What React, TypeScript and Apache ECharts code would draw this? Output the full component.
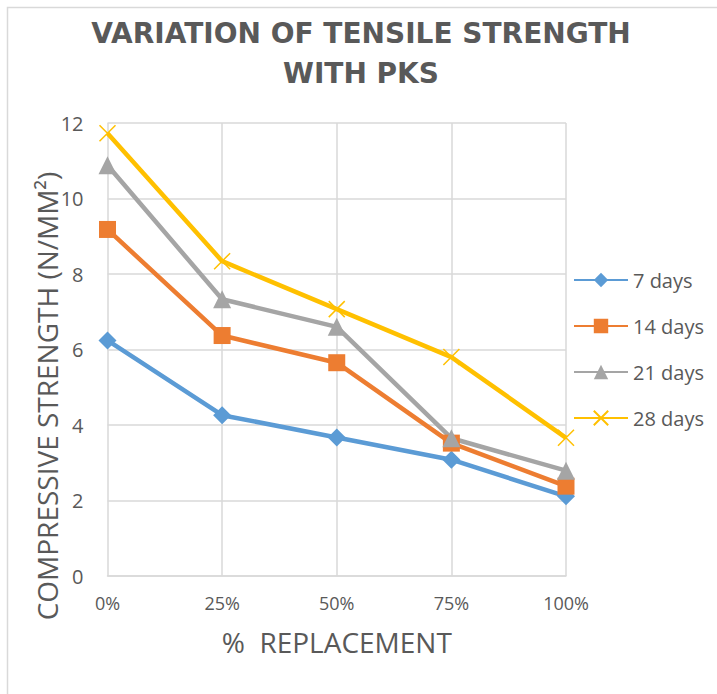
import React, { useEffect, useRef } from "react";
import * as echarts from "echarts";

const categories = ["0%", "25%", "50%", "75%", "100%"];
const days7 = [6.24, 4.26, 3.67, 3.08, 2.11];
const days14 = [9.18, 6.37, 5.65, 3.52, 2.38];
const days21 = [10.88, 7.33, 6.6, 3.65, 2.79];
const days28 = [11.73, 8.34, 7.07, 5.8, 3.66];
const seriesNames = ["7 days", "14 days", "21 days", "28 days"];
const yTicks = { min: 0, max: 12, interval: 2 };

const FONT = "'Open Sans', 'Liberation Sans', sans-serif";
const TXT = "#595959";

export default function App() {
  const ref = useRef<HTMLDivElement>(null);
  useEffect(() => {
    if (!ref.current) return;
    const chart = echarts.init(ref.current, undefined, { renderer: "svg" });
    const mk = (name: string, data: number[], color: string, symbol: string, size: number, extra: any = {}) => ({
      name,
      type: "line",
      data,
      symbol,
      symbolSize: size,
      showSymbol: true,
      lineStyle: { color, width: 4.5 },
      itemStyle: { color, ...extra },
      z: 2,
    });
    chart.setOption({
      animation: false,
      backgroundColor: "#ffffff",
      textStyle: { fontFamily: FONT },
      title: {
        text: "VARIATION OF TENSILE STRENGTH\nWITH PKS",
        left: 356,
        textAlign: "center",
        top: 8,
        textStyle: {
          fontFamily: "'DejaVu Sans', sans-serif",
          fontSize: 28,
          fontWeight: "bold",
          color: TXT,
          lineHeight: 40,
        },
      },
      graphic: [
        {
          type: "rect",
          shape: { x: 7.5, y: 7.5, width: 800, height: 800 },
          style: { fill: "none", stroke: "#d9d9d9", lineWidth: 1.5 },
          silent: true,
        },
        {
          type: "text",
          x: 47,
          y: 396,
          rotation: Math.PI / 2,
          style: {
            text: "COMPRESSIVE STRENGTH (N/MM²)",
            fontFamily: FONT,
            fontSize: 28,
            fill: TXT,
            align: "center",
            verticalAlign: "middle",
          },
          silent: true,
        },
      ],
      legend: {
        orient: "vertical",
        left: 568,
        top: 263,
        itemGap: 22,
        itemWidth: 54,
        itemHeight: 18,
        textStyle: { fontFamily: FONT, fontSize: 20, color: TXT, lineHeight: 24 },
        data: seriesNames,
      },
      grid: { left: 107.5, right: 151, top: 123, bottom: 118, containLabel: false },
      xAxis: {
        type: "category",
        data: categories,
        boundaryGap: false,
        name: "%  REPLACEMENT",
        nameLocation: "middle",
        nameGap: 52,
        nameTextStyle: { fontFamily: FONT, fontSize: 28, color: TXT },
        axisLine: { show: true, lineStyle: { color: "#d9d9d9", width: 1.5 } },
        axisTick: { show: false },
        axisLabel: { fontFamily: FONT, fontSize: 18, color: TXT, margin: 18 },
        splitLine: { show: true, lineStyle: { color: "#d9d9d9", width: 1.5 } },
      },
      yAxis: {
        type: "value",
        min: yTicks.min,
        max: yTicks.max,
        interval: yTicks.interval,
        axisLine: { show: false },
        axisTick: { show: false },
        axisLabel: { fontFamily: FONT, fontSize: 20, color: TXT, margin: 24 },
        splitLine: { show: true, lineStyle: { color: "#d9d9d9", width: 1.5 } },
      },
      series: [
        mk(seriesNames[0], days7, "#5B9BD5", "diamond", 18),
        mk(seriesNames[1], days14, "#ED7D31", "rect", 17),
        mk(seriesNames[2], days21, "#A5A5A5", "triangle", 18),
        mk(seriesNames[3], days28, "#FFC000", "path://M0,0L10,10M10,0L0,10", 16, {
          borderColor: "#FFC000",
          borderWidth: 1.5,
        }),
      ],
    });
    return () => chart.dispose();
  }, []);
  return (
    <div
      ref={ref}
      style={{ position: "fixed", left: 0, top: 0, width: 717, height: 694 }}
    />
  );
}
